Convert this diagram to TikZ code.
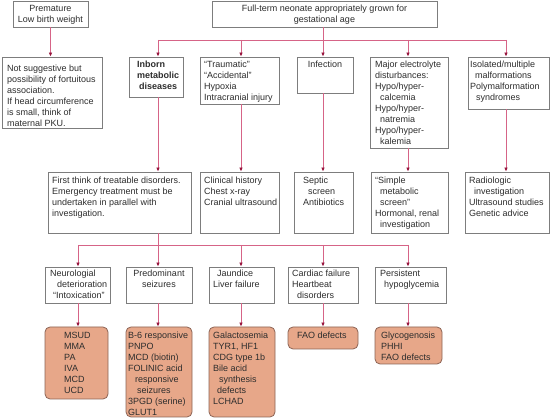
\documentclass[tikz,border=0pt]{standalone}
\usepackage{fontspec}
\setmainfont{Liberation Sans}
\usetikzlibrary{arrows.meta,fit}
\definecolor{linepink}{RGB}{214,100,135}
\definecolor{tipred}{RGB}{150,20,60}
\definecolor{boxgray}{RGB}{125,125,125}
\definecolor{fillor}{RGB}{231,167,137}
\definecolor{orborder}{RGB}{140,100,85}
\definecolor{txtgray}{RGB}{45,45,45}
\newcommand\mybox[6]{\node[#1, fit={(#3,#4) (#5,#6)}] (#2) {};}
\newcommand\fl{\rule{0pt}{8pt}}
\begin{document}
\begin{tikzpicture}[x=1pt,y=-1pt,
 box/.style={draw=boxgray, line width=0.8pt, inner sep=0pt, fill=white},
 obox/.style={draw=orborder, fill=fillor, rounded corners=5pt, line width=0.8pt, inner sep=0pt},
 txt/.style={inner sep=0pt, align=left, text=txtgray, font=\fontsize{9}{11}\selectfont, anchor=north west},
 ctxt/.style={inner sep=0pt, align=center, text=txtgray, font=\fontsize{9}{11}\selectfont, anchor=north},
 conn/.style={draw=linepink, line width=0.8pt},
 arr/.style={conn, -{Latex[length=4pt,width=3.6pt,color=tipred]}},
]
\useasboundingbox (0,0) rectangle (550,419);
% column x positions and branch lines
\coordinate (colA) at (78,0);
\coordinate (colB) at (158,0);
\coordinate (colC) at (241,0);
\coordinate (colD) at (323,0);
\coordinate (colE) at (408,0);
\coordinate (colF) at (506,0);
\coordinate (h1) at (0,40);
\coordinate (h2) at (0,245);
% row 0
\mybox{box}{prem}{13}{1}{88}{27}
\mybox{box}{full}{212}{1}{437}{27}
% row 1
\mybox{box}{notsug}{2}{57}{102}{128}
\mybox{box}{inborn}{129}{57}{183}{97}
\mybox{box}{trauma}{200}{57}{279}{104}
\mybox{box}{infect}{297}{57}{353}{93}
\mybox{box}{major}{370}{57}{448}{148}
\mybox{box}{isol}{468}{57}{549}{109}
% row 2
\mybox{box}{first}{48}{172}{191}{233}
\mybox{box}{clin}{200}{172}{279}{233}
\mybox{box}{septic}{294}{172}{353}{233}
\mybox{box}{simple}{371}{172}{448}{233}
\mybox{box}{radio}{465}{172}{549}{233}
% row 3
\mybox{box}{neuro}{45}{267}{110}{303}
\mybox{box}{pred}{126}{267}{192}{303}
\mybox{box}{jaund}{209}{267}{274}{303}
\mybox{box}{card}{288}{267}{358}{303}
\mybox{box}{pers}{375}{267}{446}{303}
% row 4
\mybox{obox}{msud}{45}{327}{108}{399}
\mybox{obox}{b6}{126}{327}{192}{417}
\mybox{obox}{galac}{209}{327}{275}{417}
\mybox{obox}{fao}{288}{327}{358}{349}
\mybox{obox}{glyco}{375}{327}{442}{364}
% texts (first-line baseline = y + 8)
\node[ctxt] (prem-t) at (50.5,3.3) {\fl Premature\\Low birth weight};
\node[ctxt] (full-t) at (324.5,3.5) {\fl Full-term neonate appropriately grown for\\gestational age};
\node[txt] (notsug-t) at (7,63.5) {\fl Not suggestive but\\possibility of fortuitous\\association.\\If head circumference\\is small, think of\\maternal PKU.};
\node[txt, font=\fontsize{9}{11}\selectfont\bfseries] (inborn-t) at (137,59.5) {\fl Inborn\\metabolic\\\hspace*{2pt}diseases};
\node[txt] (trauma-t) at (204,59.5) {\fl “Traumatic”\\“Accidental”\\Hypoxia\\Intracranial injury};
\node[ctxt] (infect-t) at (325,59) {\fl Infection};
\node[txt] (major-t) at (375,59) {\fl Major electrolyte\\disturbances:\\Hypo/hyper-\\\hspace*{5pt}calcemia\\Hypo/hyper-\\\hspace*{5pt}natremia\\Hypo/hyper-\\\hspace*{5pt}kalemia};
\node[txt] (isol-t) at (470,59) {\fl Isolated/multiple\\\hspace*{5pt}malformations\\Polymalformation\\\hspace*{6pt}syndromes};
\node[txt] (first-t) at (52,175.5) {\fl First think of treatable disorders.\\Emergency treatment must be\\undertaken in parallel with\\investigation.};
\node[txt] (clin-t) at (204,175.5) {\fl Clinical history\\Chest x-ray\\Cranial ultrasound};
\node[txt] (septic-t) at (303,175.5) {\fl Septic\\\hspace*{5pt}screen\\Antibiotics};
\node[txt] (simple-t) at (375,175.5) {\fl “Simple\\\hspace*{5pt}metabolic\\\hspace*{5pt}screen”\\Hormonal, renal\\\hspace*{5pt}investigation};
\node[txt] (radio-t) at (469,175.5) {\fl Radiologic\\\hspace*{5pt}investigation\\Ultrasound studies\\Genetic advice};
\node[txt] (neuro-t) at (50,268.5) {\fl Neurologial\\\hspace*{7pt}deterioration\\\hspace*{3pt}“Intoxication”};
\node[ctxt] (pred-t) at (159,268.5) {\fl Predominant\\seizures};
\node[txt] (jaund-t) at (213,268.5) {\fl\hspace*{4pt}Jaundice\\Liver failure};
\node[txt] (card-t) at (292,268.5) {\fl Cardiac failure\\Heartbeat\\\hspace*{5pt}disorders};
\node[txt] (pers-t) at (380,268.5) {\fl Persistent\\\hspace*{4pt}hypoglycemia};
\node[txt] (msud-t) at (64,330.5) {\fl MSUD\\MMA\\PA\\IVA\\MCD\\UCD};
\node[txt] (b6-t) at (128,330.5) {\fl B-6 responsive\\PNPO\\MCD (biotin)\\FOLINIC acid\\\hspace*{7pt}responsive\\\hspace*{9pt}seizures\\3PGD (serine)\\GLUT1};
\node[txt] (galac-t) at (213,330.5) {\fl Galactosemia\\TYR1, HF1\\CDG type 1b\\Bile acid\\\hspace*{6pt}synthesis\\\hspace*{4pt}defects\\LCHAD};
\node[txt] (fao-t) at (297,330.5) {\fl FAO defects};
\node[txt] (glyco-t) at (381,330.5) {\fl Glycogenosis\\PHHI\\FAO defects};
% connectors
\draw[arr] (prem.south) -- (prem.south |- notsug.north);
\draw[conn] (colB |- h1) -- (colF |- h1);
\draw[arr] (colD |- full.south) -- (colD |- infect.north);
\draw[arr] (colB |- h1) -- (colB |- inborn.north);
\draw[arr] (colC |- h1) -- (colC |- trauma.north);
\draw[arr] (colE |- h1) -- (colE |- major.north);
\draw[arr] (colF |- h1) -- (colF |- isol.north);
\draw[arr] (colB |- inborn.south) -- (colB |- first.north);
\draw[arr] (colC |- trauma.south) -- (colC |- clin.north);
\draw[arr] (colD |- infect.south) -- (colD |- septic.north);
\draw[arr] (colE |- major.south) -- (colE |- simple.north);
\draw[arr] (colF |- isol.south) -- (colF |- radio.north);
\draw[conn] (colA |- h2) -- (colE |- h2);
\draw[arr] (colB |- first.south) -- (colB |- pred.north);
\draw[arr] (colA |- h2) -- (colA |- neuro.north);
\draw[arr] (colC |- h2) -- (colC |- jaund.north);
\draw[arr] (colD |- h2) -- (colD |- card.north);
\draw[arr] (colE |- h2) -- (colE |- pers.north);
\draw[arr] (colA |- neuro.south) -- (colA |- msud.north);
\draw[arr] (colB |- pred.south) -- (colB |- b6.north);
\draw[arr] (colC |- jaund.south) -- (colC |- galac.north);
\draw[arr] (colD |- card.south) -- (colD |- fao.north);
\draw[arr] (colE |- pers.south) -- (colE |- glyco.north);
\end{tikzpicture}
\end{document}
